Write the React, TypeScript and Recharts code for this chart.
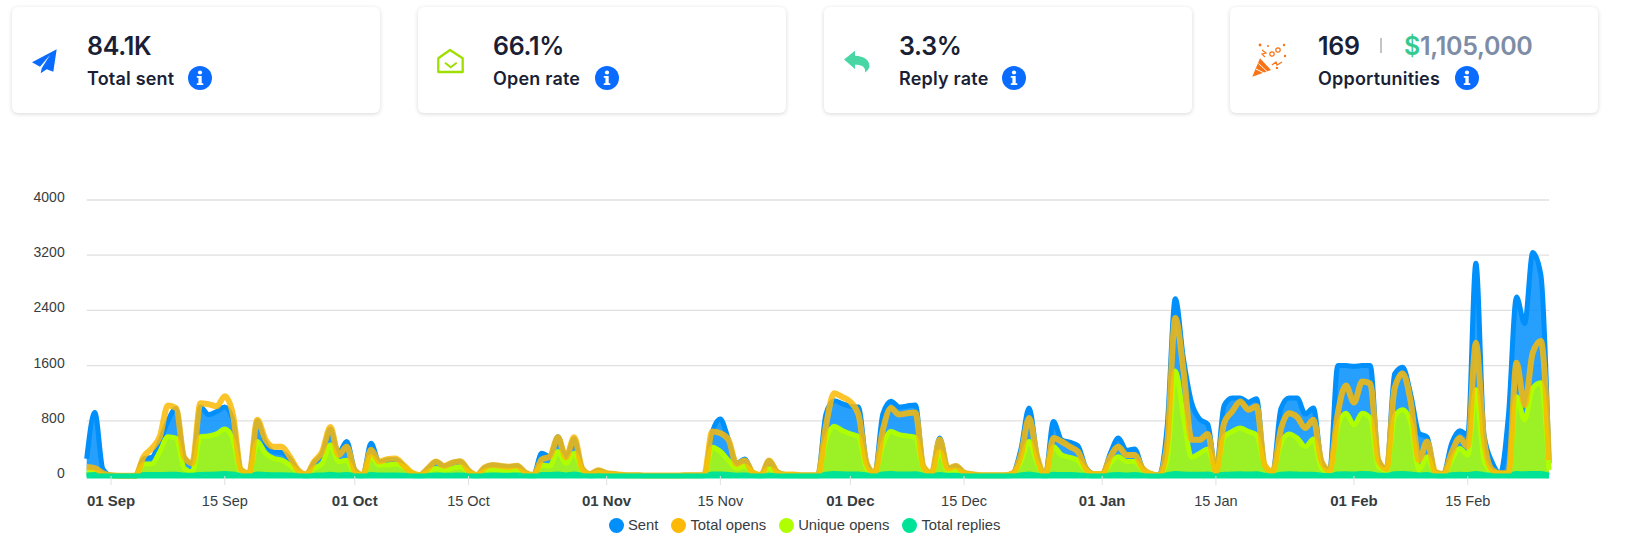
import React from 'react';
import { ComposedChart, Area, Line, XAxis, YAxis, CartesianGrid } from 'recharts';

const FIRST_DAY = -3; // days relative to 01 Sep

const sent = [
    250, 920, 100, 10, 5, 5, 5, 250, 270, 500,
    800, 980, 270, 180, 1000, 890, 935, 1000, 820, 80,
    40, 800, 480, 350, 340, 250, 80, 20, 200, 330,
    680, 330, 500, 90, 15, 475, 200, 235, 240, 150,
    45, 15, 110, 210, 145, 195, 215, 80, 15, 125,
    160, 145, 135, 150, 50, 15, 330, 280, 570, 270,
    540, 110, 30, 85, 40, 30, 15, 10, 10, 8,
    8, 8, 8, 8, 10, 12, 15, 630, 825, 525,
    185, 245, 50, 15, 225, 60, 20, 20, 10, 10,
    15, 900, 1090, 1050, 1010, 1000, 190, 40, 900, 1085,
    1000, 1015, 1030, 135, 40, 550, 110, 145, 50, 25,
    12, 10, 10, 12, 40, 390, 985, 280, 15, 790,
    525, 490, 440, 120, 30, 30, 330, 550, 370, 390,
    110, 30, 12, 720, 2570, 1700, 1065, 825, 750, 60,
    1020, 1130, 1130, 1070, 1120, 160, 60, 975, 1130, 1130,
    900, 985, 210, 80, 1600, 1600, 1590, 1600, 1600, 230,
    100, 1480, 1575, 1170, 620, 560, 60, 30, 465, 655,
    600, 3085, 600, 200, 40, 870, 2595, 2210, 3240, 2915,
    185,
];

const totalOpens = [
    130, 115, 40, 10, 5, 5, 5, 280, 400, 570,
    1020, 985, 270, 185, 1055, 1040, 1010, 1155, 890, 90,
    40, 815, 530, 425, 425, 280, 90, 25, 210, 355,
    710, 305, 425, 80, 15, 380, 210, 245, 255, 160,
    50, 15, 110, 210, 145, 195, 215, 80, 15, 125,
    160, 145, 135, 150, 50, 15, 240, 280, 560, 270,
    560, 110, 30, 85, 40, 30, 15, 10, 10, 8,
    8, 8, 8, 8, 10, 12, 15, 645, 620, 525,
    175, 225, 50, 15, 225, 60, 20, 20, 10, 10,
    15, 730, 1200, 1145, 1075, 890, 185, 40, 670, 985,
    890, 910, 920, 135, 40, 530, 110, 145, 50, 25,
    12, 10, 10, 12, 40, 305, 840, 280, 15, 550,
    500, 425, 355, 110, 30, 30, 280, 425, 305, 305,
    110, 30, 10, 475, 2290, 1540, 525, 525, 610, 60,
    765, 935, 1080, 960, 1010, 160, 60, 680, 910, 855,
    695, 815, 210, 80, 910, 1310, 1065, 1370, 1340, 230,
    100, 1275, 1485, 1060, 230, 500, 60, 30, 330, 550,
    425, 1930, 525, 90, 40, 40, 1640, 1030, 1785, 1955,
    230,
];

const uniqueOpens = [
    60, 50, 20, 8, 5, 5, 5, 175, 175, 355,
    570, 550, 110, 60, 570, 580, 610, 680, 525, 60,
    40, 500, 330, 255, 230, 160, 60, 20, 110, 185,
    450, 210, 230, 40, 15, 280, 160, 160, 175, 135,
    50, 15, 60, 110, 85, 110, 135, 60, 15, 70,
    90, 85, 80, 85, 35, 15, 160, 145, 355, 185,
    330, 85, 25, 50, 30, 25, 15, 10, 10, 8,
    8, 8, 8, 8, 10, 12, 15, 415, 355, 225,
    110, 145, 50, 15, 110, 45, 20, 20, 10, 10,
    15, 525, 720, 660, 610, 570, 110, 40, 450, 645,
    600, 580, 560, 110, 40, 355, 80, 85, 40, 20,
    12, 10, 10, 12, 30, 210, 500, 185, 15, 425,
    305, 270, 225, 80, 25, 25, 185, 280, 210, 210,
    85, 30, 10, 235, 1520, 860, 270, 330, 390, 60,
    570, 645, 695, 645, 595, 160, 60, 475, 610, 550,
    425, 535, 110, 60, 720, 910, 740, 910, 840, 135,
    80, 865, 960, 765, 90, 280, 40, 20, 230, 400,
    305, 1250, 230, 60, 40, 40, 1150, 815, 1275, 1350,
    90,
];

const totalReplies = [
    15, 20, 12, 5, 3, 3, 3, 20, 20, 22,
    25, 25, 15, 12, 22, 25, 28, 38, 28, 10,
    6, 28, 22, 18, 18, 15, 10, 5, 12, 15,
    25, 15, 20, 10, 3, 22, 15, 15, 15, 12,
    6, 3, 10, 15, 12, 12, 15, 10, 3, 12,
    15, 12, 12, 15, 6, 3, 20, 20, 28, 15,
    28, 10, 5, 10, 6, 5, 3, 3, 3, 2,
    2, 2, 2, 2, 3, 3, 3, 28, 30, 22,
    12, 15, 6, 3, 12, 6, 3, 3, 3, 3,
    3, 25, 35, 32, 28, 30, 15, 6, 28, 35,
    28, 28, 32, 12, 6, 22, 10, 12, 6, 3,
    3, 3, 3, 3, 6, 15, 28, 12, 3, 25,
    20, 20, 15, 10, 5, 5, 15, 22, 15, 20,
    10, 5, 3, 20, 38, 28, 25, 25, 28, 10,
    25, 28, 32, 28, 32, 12, 6, 25, 32, 28,
    25, 25, 10, 6, 28, 32, 28, 35, 32, 12,
    10, 32, 35, 28, 15, 20, 6, 5, 20, 25,
    22, 38, 20, 10, 6, 10, 35, 32, 38, 38,
    12,
];

const tickDays = [0, 14, 30, 44, 61, 75, 91, 105, 122, 136, 153, 167];
const tickLabels = ['01 Sep', '15 Sep', '01 Oct', '15 Oct', '01 Nov', '15 Nov', '01 Dec', '15 Dec', '01 Jan', '15 Jan', '01 Feb', '15 Feb'];
const yTicks = [0, 800, 1600, 2400, 3200, 4000];

const OPENS_COLOR = '#FCBA06';

const legendItems = [
    { name: 'Sent', color: '#008FFB' },
    { name: 'Total opens', color: OPENS_COLOR },
    { name: 'Unique opens', color: '#B0FF00' },
    { name: 'Total replies', color: '#00E396' },
];

const chartData = sent.map((value, i) => ({
    day: FIRST_DAY + i,
    sent: value,
    totalOpens: totalOpens[i],
    uniqueOpens: uniqueOpens[i],
    totalReplies: totalReplies[i],
}));

const AXIS_FONT = '"Liberation Sans", Arial, sans-serif';
const CARD_FONT = 'Inter, "Noto Sans", sans-serif';
const INK = '#1a1f36';

const XTick = ({ x, y, payload }: any) => {
    const label = tickLabels[tickDays.indexOf(payload.value)];
    const bold = label.startsWith('01');
    return (
        <text x={x} y={y + 21} textAnchor="middle" fontFamily={AXIS_FONT} fontSize={bold ? 15 : 14.5} fontWeight={bold ? 700 : 400} fill="#373d3f">
            {label}
        </text>
    );
};

const YTick = ({ x, y, payload }: any) => (
    <text x={x} y={y + 2} textAnchor="end" fontFamily={AXIS_FONT} fontSize={14} fill="#373d3f">
        {payload.value}
    </text>
);

const ChartLegend = () => (
    <div style={{ position: 'absolute', left: 609, top: 516, display: 'flex', fontFamily: AXIS_FONT, fontSize: 14.8, lineHeight: '19px', color: '#373d3f' }}>
        {legendItems.map((item) => (
            <div key={item.name} style={{ display: 'flex', alignItems: 'center', marginRight: 13 }}>
                <span style={{ width: 15, height: 15, borderRadius: '50%', background: item.color, marginRight: 4 }} />
                <span>{item.name}</span>
            </div>
        ))}
    </div>
);

const InfoIcon = ({ cx }: { cx: number }) => (
    <svg width={24} height={24} viewBox="0 0 24 24" style={{ position: 'absolute', left: cx - 12, top: 66 }}>
        <circle cx={12} cy={12} r={12} fill="#0a6cff" />
        <circle cx={12} cy={6.5} r={2.1} fill="#fff" />
        <path d="M8.8 10h4.9v7.2h1.6V19H8.8v-1.8h1.6v-5.4H8.8z" fill="#fff" />
    </svg>
);

const cardBox = (left: number): React.CSSProperties => ({
    position: 'absolute',
    left,
    top: 7,
    width: 368,
    height: 106,
    background: '#fff',
    borderRadius: 6,
    boxShadow: '0 1px 4px rgba(0,0,0,0.16)',
});

const textAt = (left: number, top: number, size: number, spacing = 0): React.CSSProperties => ({
    position: 'absolute',
    left,
    top,
    fontFamily: CARD_FONT,
    fontSize: size,
    fontWeight: 600,
    letterSpacing: spacing,
    lineHeight: '30px',
    color: INK,
    whiteSpace: 'nowrap',
});

const valueAt = (left: number) => textAt(left, 31, 25, -0.3);
const labelAt = (left: number) => textAt(left, 64, 18, 0.2);

const Icons = () => (
    <svg width={1643} height={120} style={{ position: 'absolute', left: 0, top: 0 }}>
        <path d="M56.7 49.3 L32 62.3 L40 66.7 L50 55 L41.7 68.3 L40.7 73.3 L46.7 69.3 L53.3 71.7 Z" fill="#0a6cff" />
        <path d="M438.3 72 V58.3 L450 50 L462.7 58.3 V72 Z" fill="none" stroke="#9fdf00" strokeWidth={2.3} strokeLinejoin="round" />
        <path d="M445 62.7 L450.7 67.3 L456.7 62.7" fill="none" stroke="#9fdf00" strokeWidth={2} />
        <path d="M844 59.5 L855 50.7 V55.7 C864 56 869.5 60 869.5 66 C869.5 68.5 867 71 865 72.5 C866 67 862 64.7 855 64.7 V69 Z" fill="#48d6a4" />
        <path d="M1252.3 76.7 L1260 58.3 L1271 70 Z" fill="#f97316" />
        <path d="M1256 69 L1264 73 M1258.5 63.5 L1267 71.5" stroke="#fff" strokeWidth={1} />
        <g fill="none" stroke="#f97316" strokeWidth={1.2}>
            <path d="M1262 50 L1266 53 L1262 54 L1265 57" />
            <circle cx={1278} cy={50} r={2.2} />
            <circle cx={1272} cy={54} r={2.2} />
            <path d="M1272 65 L1276 62 L1277 65 L1282 62" />
        </g>
        <g fill="#f97316">
            <circle cx={1260} cy={45} r={1.4} />
            <circle cx={1268} cy={46} r={1} />
            <circle cx={1284} cy={45} r={1.2} />
            <circle cx={1285} cy={56} r={1.2} />
            <circle cx={1277} cy={68} r={1.2} />
        </g>
    </svg>
);

export default function App() {
    return (
        <div style={{ position: 'absolute', left: 0, top: 0, width: 1643, height: 559, background: '#fff' }}>
            <div style={cardBox(12)} />
            <div style={cardBox(418)} />
            <div style={cardBox(824)} />
            <div style={cardBox(1230)} />
            <Icons />

            <div style={valueAt(87)}>84.1K</div>
            <div style={labelAt(87)}>Total sent</div>
            <InfoIcon cx={199.5} />

            <div style={valueAt(493)}>66.1%</div>
            <div style={labelAt(493)}>Open rate</div>
            <InfoIcon cx={607} />

            <div style={valueAt(899)}>3.3%</div>
            <div style={labelAt(899)}>Reply rate</div>
            <InfoIcon cx={1014} />

            <div style={valueAt(1318)}>169</div>
            <div style={{ position: 'absolute', left: 1380, top: 38, width: 1.5, height: 15, background: '#c4c4c4' }} />
            <div style={valueAt(1404)}>
                <span style={{ color: '#36c98f' }}>$</span>
                <span style={{ color: '#7e8da5' }}>1,105,000</span>
            </div>
            <div style={labelAt(1318)}>Opportunities</div>
            <InfoIcon cx={1467} />

            <div style={{ position: 'absolute', left: 0, top: 0 }}>
                <ComposedChart
                    width={1643}
                    height={559}
                    data={chartData}
                    margin={{ top: 200, right: 94, bottom: 0, left: 0 }}
                >
                    <CartesianGrid vertical={false} stroke="#e0e0e0" strokeWidth={1.3} />
                    <XAxis
                        dataKey="day"
                        type="number"
                        domain={[FIRST_DAY, 177]}
                        ticks={tickDays}
                        tick={<XTick />}
                        tickSize={9}
                        tickMargin={0}
                        height={83}
                        axisLine={{ stroke: '#00E396', strokeWidth: 5 }}
                        tickLine={{ stroke: '#e0e0e0' }}
                    />
                    <YAxis
                        domain={[0, 4000]}
                        ticks={yTicks}
                        tick={<YTick />}
                        width={86.7}
                        tickSize={0}
                        tickMargin={22}
                        axisLine={false}
                    />
                    <Area type="monotone" dataKey="sent" name="Sent" stroke="#008FFB" strokeWidth={5} fill="#008FFB" fillOpacity={0.85} isAnimationActive={false} />
                    <Area type="monotone" dataKey="uniqueOpens" name="Unique opens" stroke="#B0FF00" strokeWidth={5} fill="#B0FF00" fillOpacity={0.85} isAnimationActive={false} />
                    <Area type="monotone" dataKey="totalReplies" name="Total replies" stroke="#00E396" strokeWidth={5} fill="#00E396" fillOpacity={0.85} isAnimationActive={false} />
                    <Line type="monotone" dataKey="totalOpens" name="Total opens" stroke={OPENS_COLOR} strokeOpacity={0.85} strokeWidth={6} dot={false} activeDot={false} isAnimationActive={false} />
                </ComposedChart>
            </div>
            <ChartLegend />
        </div>
    );
}
